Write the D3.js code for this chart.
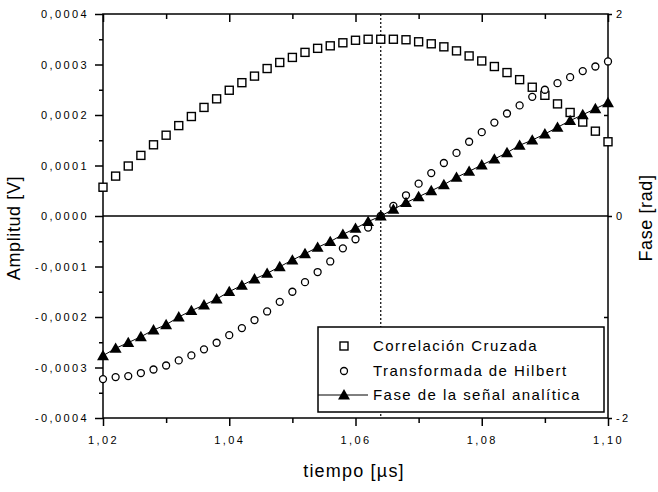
<!DOCTYPE html>
<html>
<head>
<meta charset="utf-8">
<script src="https://cdn.jsdelivr.net/npm/d3@7"></script>
<style>
  body { margin: 0; background: #fff; }
  svg { display: block; font-family: "Liberation Sans", Arial, sans-serif; }
  .tick text { font-size: 11px; letter-spacing: 2.4px; fill: #000; }
</style>
</head>
<body>
<svg id="chart" width="658" height="492"></svg>
<script>
// time axis (µs), one sample every 0.002
const tiempo = d3.range(41).map(i => +(1.02 + i * 0.002).toFixed(3));

// Correlación Cruzada [V]
const correlacion = [
  0.000057, 0.000079, 0.000099, 0.000120, 0.000141, 0.000160, 0.000179, 0.000197, 0.000215, 0.000232,
  0.000249, 0.000264, 0.000277, 0.000292, 0.000304, 0.000314, 0.000324, 0.000332, 0.000337, 0.000343,
  0.000348, 0.000350, 0.000350, 0.000350, 0.000349, 0.000345, 0.000341, 0.000335, 0.000327, 0.000317,
  0.000307, 0.000296, 0.000284, 0.000270, 0.000255, 0.000239, 0.000222, 0.000205, 0.000186, 0.000168,
  0.000147
];

// Transformada de Hilbert [V]
const hilbert = [
  -0.000323, -0.000319, -0.000317, -0.000311, -0.000304, -0.000296, -0.000286, -0.000276, -0.000264, -0.000251,
  -0.000236, -0.000222, -0.000206, -0.000189, -0.000170, -0.000150, -0.000131, -0.000111, -0.000090, -0.000064,
  -0.000046, -0.000023, 0.000000, 0.000020, 0.000041, 0.000064, 0.000085, 0.000105, 0.000125, 0.000147,
  0.000166, 0.000185, 0.000203, 0.000219, 0.000236, 0.000250, 0.000263, 0.000275, 0.000287, 0.000296,
  0.000306
];

// Fase de la señal analítica [rad]
const fase = [
  -1.383, -1.310, -1.254, -1.195, -1.129, -1.076, -1.000, -0.937, -0.881, -0.822,
  -0.749, -0.686, -0.624, -0.568, -0.502, -0.436, -0.373, -0.310, -0.254, -0.182,
  -0.122, -0.056, 0.000, 0.066, 0.132, 0.191, 0.250, 0.310, 0.383, 0.442,
  0.505, 0.564, 0.627, 0.700, 0.752, 0.812, 0.878, 0.944, 1.003, 1.062,
  1.122
];

const yLeftTicks = [-0.0004, -0.0003, -0.0002, -0.0001, 0, 0.0001, 0.0002, 0.0003, 0.0004];
const yRightTicks = [-2, 0, 2];
const xTicks = [1.02, 1.04, 1.06, 1.08, 1.10];
const legendLabels = ["Correlación Cruzada", "Transformada de Hilbert", "Fase de la señal analítica"];
const tiempoMarca = 1.064;

const locale = d3.formatLocale({ decimal: ",", thousands: ".", grouping: [3], currency: ["", ""], minus: "-" });
const fmtY = locale.format(".4f");
const fmtX = locale.format(".2f");
const fmtR = locale.format("d");

const svg = d3.select("#chart");
const mLeft = 103, mRight = 608, mTop = 14, mBottom = 418;

const x = d3.scaleLinear().domain([1.02, 1.10]).range([mLeft, mRight]);
const yL = d3.scaleLinear().domain([-0.0004, 0.0004]).range([mBottom, mTop]);
const yR = d3.scaleLinear().domain([-2, 2]).range([mBottom, mTop]);

// minor ticks
const xMinor = [1.03, 1.05, 1.07, 1.09];
const yMinor = [-0.00035, -0.00025, -0.00015, -0.00005, 0.00005, 0.00015, 0.00025, 0.00035];

function styleAxis(g) {
  g.select(".domain").remove();
  g.selectAll(".tick line").attr("stroke", "#000").attr("stroke-width", 1.5);
}

// left axis
svg.append("g").attr("transform", `translate(${mLeft},0)`)
  .call(d3.axisLeft(yL).tickValues(yLeftTicks).tickFormat(fmtY).tickSize(8).tickPadding(6))
  .call(styleAxis);
svg.append("g").attr("transform", `translate(${mLeft},0)`)
  .call(d3.axisLeft(yL).tickValues(yMinor).tickFormat("").tickSize(4))
  .call(styleAxis);

// bottom axis
svg.append("g").attr("transform", `translate(0,${mBottom})`)
  .call(d3.axisBottom(x).tickValues(xTicks).tickFormat(fmtX).tickSize(8).tickPadding(10))
  .call(styleAxis);
svg.append("g").attr("transform", `translate(0,${mBottom})`)
  .call(d3.axisBottom(x).tickValues(xMinor).tickFormat("").tickSize(5))
  .call(styleAxis);

// top axis (inward ticks)
svg.append("g").attr("transform", `translate(0,${mTop})`)
  .call(d3.axisBottom(x).tickValues(xTicks).tickFormat("").tickSize(8))
  .call(styleAxis);
svg.append("g").attr("transform", `translate(0,${mTop})`)
  .call(d3.axisBottom(x).tickValues(xMinor).tickFormat("").tickSize(5))
  .call(styleAxis);

// right axis
svg.append("g").attr("transform", `translate(${mRight},0)`)
  .call(d3.axisRight(yR).tickValues(yRightTicks).tickFormat(fmtR).tickSize(4).tickPadding(4))
  .call(styleAxis);
svg.append("g").attr("transform", `translate(${mRight},0)`)
  .call(d3.axisLeft(yR).tickValues([-1, 1]).tickFormat("").tickSize(4))
  .call(styleAxis);

// frame
svg.append("rect")
  .attr("x", mLeft).attr("y", mTop)
  .attr("width", mRight - mLeft).attr("height", mBottom - mTop)
  .attr("fill", "none").attr("stroke", "#000").attr("stroke-width", 1.5);

// zero line
svg.append("line")
  .attr("x1", mLeft).attr("x2", mRight)
  .attr("y1", yL(0)).attr("y2", yL(0))
  .attr("stroke", "#000").attr("stroke-width", 1.5);

// vertical marker
svg.append("line")
  .attr("x1", x(tiempoMarca)).attr("x2", x(tiempoMarca))
  .attr("y1", mTop).attr("y2", mBottom)
  .attr("stroke", "#000").attr("stroke-width", 1.2)
  .attr("stroke-dasharray", "2,2");

// correlation squares
svg.append("g").selectAll("rect").data(correlacion).join("rect")
  .attr("x", (d, i) => x(tiempo[i]) - 4)
  .attr("y", d => yL(d) - 4)
  .attr("width", 8).attr("height", 8)
  .attr("fill", "#fff").attr("stroke", "#000").attr("stroke-width", 1.4);

// hilbert circles
svg.append("g").selectAll("circle").data(hilbert).join("circle")
  .attr("cx", (d, i) => x(tiempo[i]))
  .attr("cy", d => yL(d))
  .attr("r", 3.5)
  .attr("fill", "#fff").attr("stroke", "#000").attr("stroke-width", 1.3);

// fase line + triangles
const line = d3.line().x((d, i) => x(tiempo[i])).y(d => yR(d));
svg.append("path").datum(fase)
  .attr("d", line).attr("fill", "none").attr("stroke", "#000").attr("stroke-width", 1);

const tri = d3.symbol().type(d3.symbolTriangle).size(62);
svg.append("g").selectAll("path").data(fase).join("path")
  .attr("d", tri)
  .attr("transform", (d, i) => `translate(${x(tiempo[i])},${yR(d) + 1})`)
  .attr("fill", "#000");

// legend
const lg = svg.append("g");
lg.append("rect")
  .attr("x", 318).attr("y", 327).attr("width", 286).attr("height", 85)
  .attr("fill", "#fff").attr("stroke", "#000").attr("stroke-width", 1.5);
const rowY = [346, 371, 395];
lg.append("rect").attr("x", 340).attr("y", rowY[0] - 4).attr("width", 8).attr("height", 8)
  .attr("fill", "#fff").attr("stroke", "#000").attr("stroke-width", 1.4);
lg.append("circle").attr("cx", 344).attr("cy", rowY[1]).attr("r", 3.5)
  .attr("fill", "#fff").attr("stroke", "#000").attr("stroke-width", 1.3);
lg.append("line").attr("x1", 318).attr("x2", 368).attr("y1", rowY[2]).attr("y2", rowY[2])
  .attr("stroke", "#000").attr("stroke-width", 1);
lg.append("path").attr("d", tri).attr("transform", `translate(344,${rowY[2] + 1})`).attr("fill", "#000");
lg.selectAll("text.leg").data(legendLabels).join("text")
  .attr("class", "leg")
  .attr("x", 373).attr("y", (d, i) => rowY[i])
  .attr("dy", "0.35em")
  .attr("font-size", 15).attr("letter-spacing", 1.45)
  .text(d => d);

// axis titles
svg.append("text")
  .attr("transform", `translate(20,228) rotate(-90)`)
  .attr("text-anchor", "middle").attr("font-size", 18).attr("letter-spacing", 0.6)
  .text("Amplitud [V]");
svg.append("text")
  .attr("transform", `translate(652,218) rotate(-90)`)
  .attr("text-anchor", "middle").attr("font-size", 18).attr("letter-spacing", 0.6)
  .text("Fase [rad]");
svg.append("text")
  .attr("x", 354).attr("y", 477)
  .attr("text-anchor", "middle").attr("font-size", 18).attr("letter-spacing", 1.2)
  .text("tiempo [µs]");
</script>
</body>
</html>
